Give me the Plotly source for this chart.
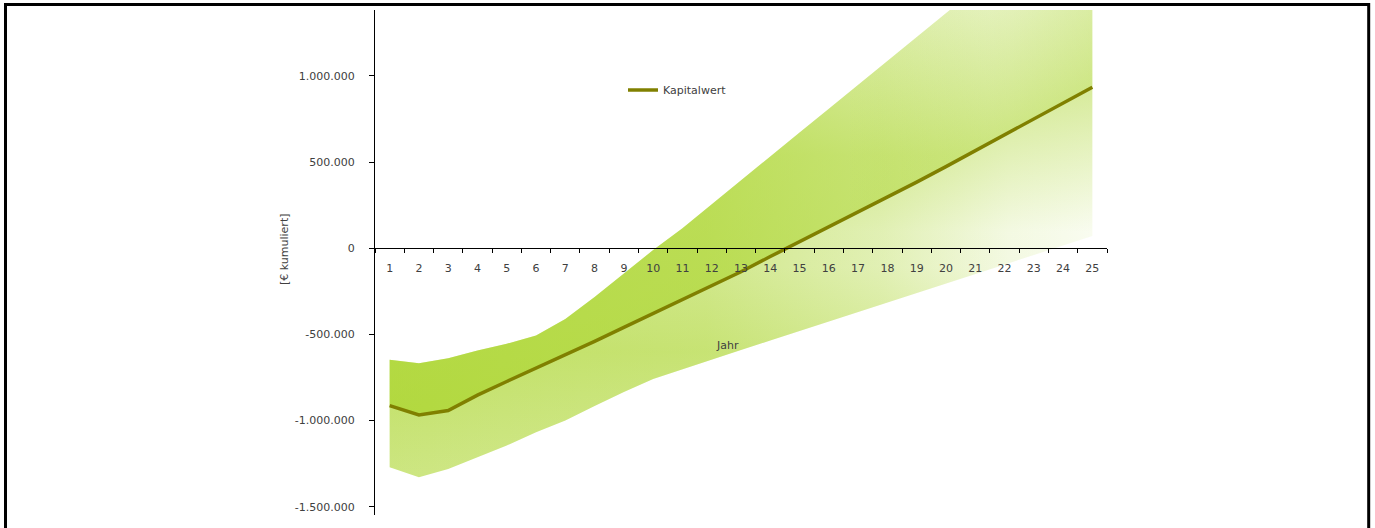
import plotly.graph_objects as go

# years on the category axis
years = [str(y) for y in range(1, 26)]

# net present value, cumulated (EUR)
kapitalwert = [
    -913000, -967000, -942000, -852000, -773000, -696000, -619000, -540000,
    -459000, -379000, -298000, -218000, -136000, -48000, 38000, 125000,
    212000, 298000, 384000, 474000, 566000, 659000, 751000, 843000, 935000,
]
# spread of the value (upper and lower bound of the band)
band_upper = [
    -647000, -667000, -638000, -593000, -554000, -506000, -410000, -283000,
    -147000, -10000, 116000, 256000, 395000, 533000, 672000, 810000,
    949000, 1087000, 1226000, 1364000, 1503000, 1642000, 1780000, 1919000,
    2058000,
]
band_lower = [
    -1271000, -1329000, -1281000, -1213000, -1145000, -1068000, -1000000,
    -915000, -834000, -758000, -701000, -645000, -590000, -535000, -480000,
    -425000, -370000, -315000, -260000, -206000, -151000, -96000, -39000,
    15000, 71000,
]

y_tickvals = [-1500000, -1000000, -500000, 0, 500000, 1000000]
y_ticktext = ["-1.500.000", "-1.000.000", "-500.000", "0", "500.000", "1.000.000"]

y_min, y_max = -1548000, 1383000
green = "153,204,0"
olive = "#808000"
text_color = "#404040"
font = dict(family="DejaVu Sans", size=11, color=text_color)

W, H = 1375, 528
plot_l, plot_r, plot_t, plot_b = 375, 1107, 10, 515
plot_w, plot_h = plot_r - plot_l, plot_b - plot_t


def px(x):
    return (x - plot_l) / plot_w


def py(y):
    return (plot_b - y) / plot_h


def band(y, **kw):
    fig.add_scatter(
        x=years, y=y, mode="lines", line=dict(width=0),
        showlegend=False, hoverinfo="skip", **kw,
    )


def fade(kind, stops, **kw):
    scale = [[pos, f"rgba({green},{a})"] for pos, a in stops]
    return dict(type=kind, colorscale=scale, **kw)


fig = go.Figure()

# full band, fading out towards the right
band(band_lower)
band(
    band_upper, fill="tonexty",
    fillgradient=fade(
        "horizontal", [(0, 0.5), (0.45, 0.42), (0.7, 0.25), (0.88, 0.06), (1, 0.0)]
    ),
)

# lower half: stronger close to the line
band(band_lower)
band(
    kapitalwert, fill="tonexty",
    fillgradient=fade(
        "vertical",
        [(0, 0.0), (0.31, 0.22), (0.53, 0.06), (0.62, 0.06), (1, 0.4)],
        start=-1300000, stop=950000,
    ),
)
# upper half: strong, fading out towards the top
band(
    band_upper, fill="tonexty",
    fillgradient=fade(
        "vertical", [(0, 0.5), (0.6, 0.4), (1, 0.05)], start=-900000, stop=1500000
    ),
)
# upper half on the right keeps some colour
band(kapitalwert)
band(
    band_upper, fill="tonexty",
    fillgradient=fade("horizontal", [(0, 0.0), (0.65, 0.0), (0.85, 0.12), (1, 0.3)]),
)

fig.add_scatter(
    x=years, y=kapitalwert, mode="lines", name="Kapitalwert",
    line=dict(width=3.5, color=olive),
)

fig.add_annotation(
    text="Jahr", x=px(727), y=py(346), xanchor="center", yanchor="middle",
    xref="paper", yref="paper", showarrow=False, font=font,
)
fig.add_annotation(
    text="[€ kumuliert]", x=px(284), y=py(250), xanchor="center", yanchor="middle",
    xref="paper", yref="paper", showarrow=False, textangle=-90, font=font,
)

# frame around the whole chart
fig.add_shape(
    type="rect", xref="paper", yref="paper",
    x0=px(5.5), x1=px(1368.7), y0=py(545), y1=py(4.5),
    line=dict(color="black", width=3), fillcolor="rgba(0,0,0,0)",
)

fig.update_layout(
    width=W,
    height=H,
    margin=dict(l=plot_l, r=W - plot_r, t=plot_t, b=H - plot_b),
    paper_bgcolor="white",
    plot_bgcolor="white",
    font=font,
    showlegend=True,
    legend=dict(
        x=px(623), y=py(90), xanchor="left", yanchor="middle",
        bgcolor="rgba(0,0,0,0)", font=font,
    ),
    xaxis=dict(
        type="category",
        range=[-0.5, 24.5],
        anchor="free",
        position=(0 - y_min) / (y_max - y_min),
        showline=True, linecolor="black", linewidth=1,
        ticks="outside", ticklen=4, tickcolor="black", tickson="boundaries",
        showgrid=False, ticklabelstandoff=10,
    ),
    yaxis=dict(
        range=[y_min, y_max],
        tickvals=y_tickvals, ticktext=y_ticktext,
        showline=True, linecolor="black", linewidth=1,
        ticks="outside", ticklen=5, tickcolor="black",
        showgrid=False, zeroline=False, ticklabelstandoff=12,
    ),
)

# the page body would otherwise push the chart 8px right and down
fig.write_html(
    "out.html",
    config=dict(displayModeBar=False),
    post_script="document.body.style.margin='0px';",
)
